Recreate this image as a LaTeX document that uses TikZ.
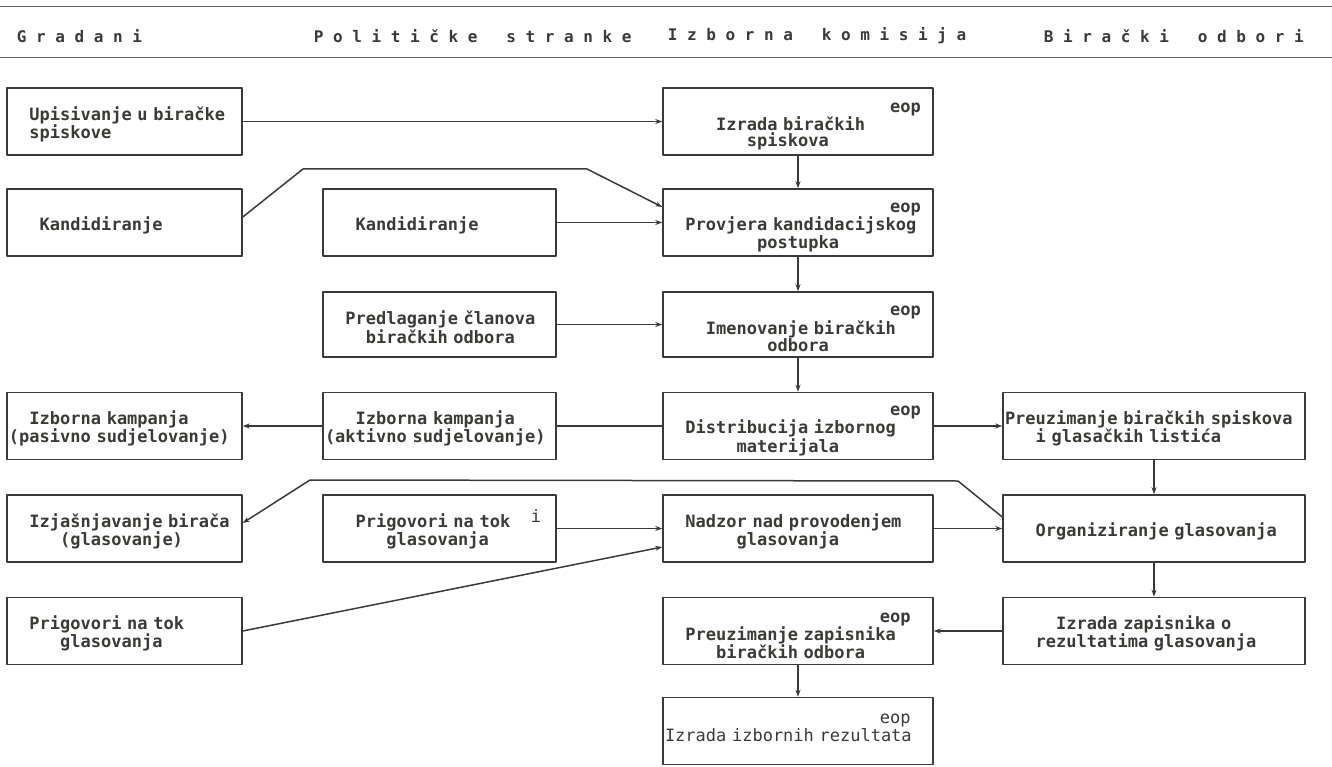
\documentclass[tikz,border=0pt]{standalone}
\usepackage{fontspec}
\newfontfamily\dotmono{DejaVu Sans Mono}
\usetikzlibrary{arrows.meta}
\definecolor{ink}{HTML}{3A3A36}
% leading blanks, counted in characters of the mono font
\newcommand\cols[1]{\hspace*{\dimexpr#1\fontcharwd\font`0\relax}}
\begin{document}
\begin{tikzpicture}[x=1pt,y=-1pt,line join=round,line cap=round,
  >={Stealth[length=7pt,width=5pt]},ink,line width=1.5pt,
  font=\dotmono\bfseries\fontsize{17}{16}\selectfont,
  box/.style={draw,align=left,inner xsep=2pt,inner ysep=0pt,minimum height=67pt,
    execute at begin node={\rule{0pt}{19pt}}},
  c1/.style={box,text width=231pt},
  c2/.style={box,text width=229pt},
  c3/.style={box,text width=266pt},
  c4/.style={box,text width=298pt},
  head/.style={anchor=west,inner sep=0pt,font=\dotmono\bfseries\fontsize{16}{16}\selectfont}]
\useasboundingbox (0,0) rectangle (1332,767);
% header
\draw[line width=1pt,ink!80] (0,7) -- (1332,7) (0,58) -- (1332,58);
\node[head] (hgr) at (16,36) {G r a d a n i};
\node[head] (hps) at (313,36) {P o l i t i č k e\cols{3}s t r a n k e};
\node[head] (hik) at (667,36) {I z b o r n a\cols{3}k o m i s i j a};
\node[head] (hbo) at (1043,36) {B i r a č k i\cols{3}o d b o r i};
% rows
\node[c1] (upis) at (124.5,121.5) {\cols{2}Upisivanje u biračke\\\cols{2}spiskove};
\node[c3] (izrsp) at (798,121.5) {\hspace*{\fill}eop\cols{1}\null\\\cols{5}Izrada biračkih\\\cols{8}spiskova};
\node[c1] (kand1) at (124.5,222.5) {\cols{3}Kandidiranje};
\node[c2] (kand2) at (439.5,222.5) {\cols{3}Kandidiranje};
\node[c3] (provj) at (798,222.5) {\hspace*{\fill}eop\cols{1}\null\\\cols{2}Provjera kandidacijskog\\\cols{9}postupka};
\node[c2,minimum height=65pt] (predl) at (439.5,324.5) {\cols{2}Predlaganje članova\\\cols{4}biračkih odbora};
\node[c3,minimum height=65pt] (imen) at (798,324.5) {\hspace*{\fill}eop\cols{1}\null\\\cols{4}Imenovanje biračkih\\\cols{10}odbora};
\node[c1] (pasiv) at (124.5,426) {\cols{2}Izborna kampanja\\(pasivno sudjelovanje)};
\node[c2] (aktiv) at (439.5,426) {\cols{3}Izborna kampanja\\(aktivno sudjelovanje)};
\node[c3] (distr) at (798,426) {\hspace*{\fill}eop\cols{1}\null\\\cols{2}Distribucija izbornog\\\cols{7}materijala};
\node[c4] (prsp) at (1154,426) {Preuzimanje biračkih spiskova\\\cols{3}i glasačkih listića};
\node[c1] (izjas) at (124.5,528.5) {\cols{2}Izjašnjavanje birača\\\cols{5}(glasovanje)};
\node[c2] (prig2) at (439.5,528.5) {\cols{3}Prigovori na tok\cols{2}\raisebox{5pt}{\mdseries i}\\\cols{6}glasovanja};
\node[c3] (nadz) at (798,528.5) {\cols{2}Nadzor nad provodenjem\\\cols{7}glasovanja};
\node[c4] (organ) at (1154,528.5) {\cols{3}Organiziranje glasovanja};
\node[c1] (prig1) at (124.5,631) {\cols{2}Prigovori na tok\\\cols{5}glasovanja};
\node[c3] (przap) at (798,631) {\hspace*{\fill}eop\cols{2}\null\\\cols{2}Preuzimanje zapisnika\\\cols{5}biračkih odbora};
\node[c4] (izzap) at (1154,631) {\cols{5}Izrada zapisnika o\\\cols{3}rezultatima glasovanja};
\node[c3] (izrez) at (798,731) {\mdseries\hspace*{\fill}eop\cols{2}\null\\Izrada izbornih rezultata\\\mbox{}};
% bends
\path
(303,169) coordinate (kb1)
(587,169) coordinate (kb2)
(958,481) coordinate (ob1)
(310,480) coordinate (ob2)
;
% connectors
\foreach \a/\b in {izrsp/provj, provj/imen, imen/distr, prsp/organ, organ/izzap, przap/izrez}
\draw[->] (\a.south) -- (\b.north);
\foreach \a/\b in {upis/izrsp, kand2/provj, predl/imen, distr/prsp, prig2/nadz, nadz/organ}
\draw[->] (\a.east) -- (\b.west);
\foreach \a/\b in {aktiv/pasiv, izzap/przap}
\draw[->] (\a.west) -- (\b.east);
\draw (distr.west) -- (aktiv.east);
\draw[->] ([yshift=5.5pt]kand1.east) -- (kb1) -- (kb2) -- ([yshift=15.5pt]provj.west);
\draw[->] ([yshift=11.5pt]organ.west) -- (ob1) -- (ob2) -- ([yshift=5.5pt]izjas.east);
\draw[->] (prig1.east) -- ([yshift=-18.5pt]nadz.west);
\end{tikzpicture}
\end{document}
